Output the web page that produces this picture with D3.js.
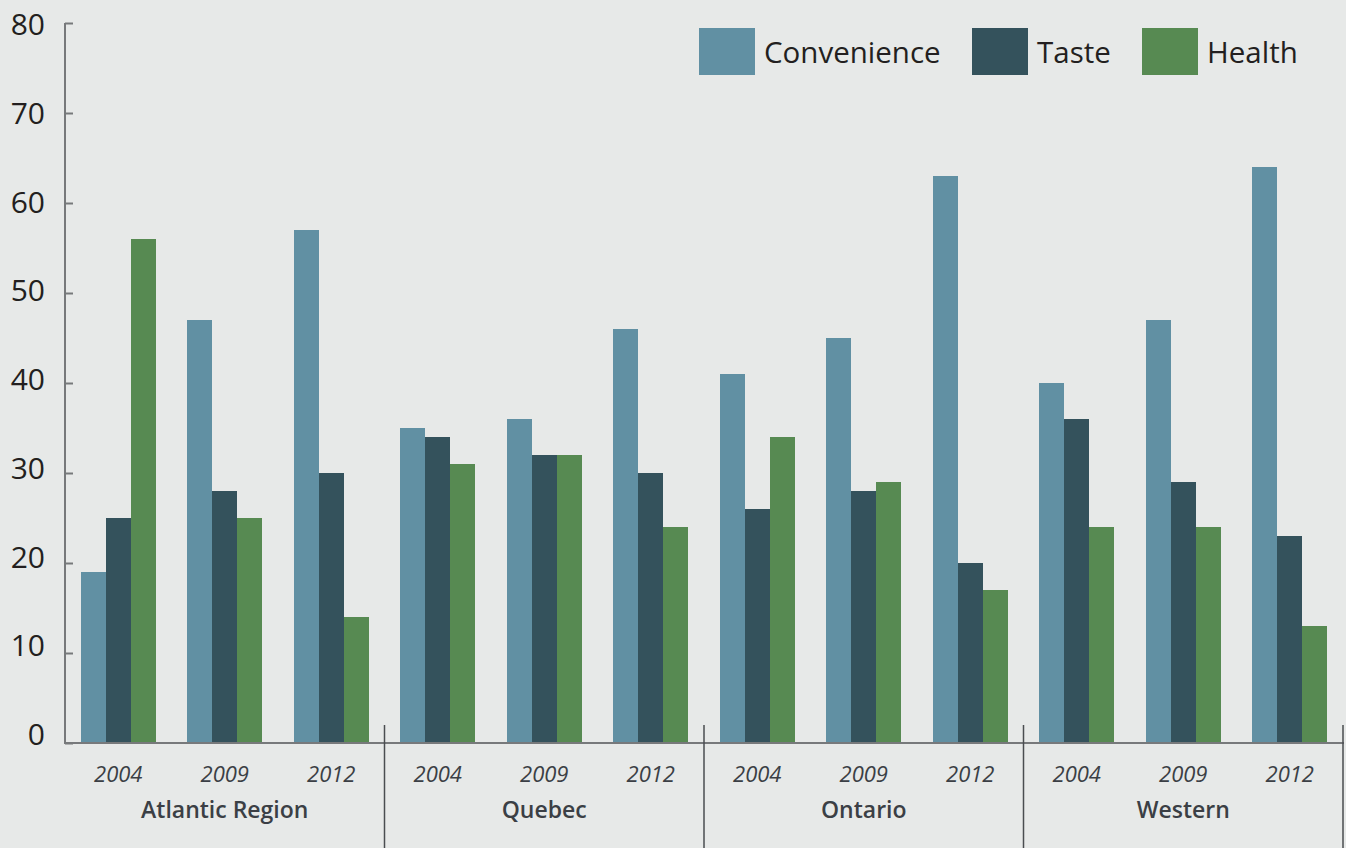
<!DOCTYPE html>
<html>
<head>
<meta charset="utf-8">
<script src="https://cdn.jsdelivr.net/npm/d3@7"></script>
<style>
  html, body { margin: 0; padding: 0; background: #e7e9e8; }
  svg { display: block; font-family: "Open Sans", "Noto Sans", sans-serif; }
</style>
</head>
<body>
<svg id="chart" width="1346" height="848"></svg>
<script>
const regions = ["Atlantic Region", "Quebec", "Ontario", "Western"];
const years = ["2004", "2009", "2012"];
const seriesNames = ["Convenience", "Taste", "Health"];
const seriesColors = ["#6190a3", "#34525c", "#578a52"];
// values per region, per year: [Convenience, Taste, Health]
const convenience = [19, 47, 57, 35, 36, 46, 41, 45, 63, 40, 47, 64];
const taste       = [25, 28, 30, 34, 32, 30, 26, 28, 20, 36, 29, 23];
const health      = [56, 25, 14, 31, 32, 24, 34, 29, 17, 24, 24, 13];
const yTicks = [0, 10, 20, 30, 40, 50, 60, 70, 80];

const svg = d3.select("#chart");
const W = 1346, H = 848;
svg.append("rect").attr("width", W).attr("height", H).attr("fill", "#e7e9e8");

const x0 = 65, x1 = 1343, yBase = 743, yTop = 23;

const keys = [];
regions.forEach((r, ri) => years.forEach((yr, yi) => keys.push(ri + "|" + yr)));

const xBand = d3.scaleBand().domain(keys).range([x0, x1]).paddingInner(0.296).paddingOuter(0.148);
const xSub = d3.scaleBand().domain(seriesNames).range([0, xBand.bandwidth()]).padding(0);
const y = d3.scaleLinear().domain([0, 80]).range([yBase, yTop]);
// tick labels are laid out on a slightly tighter scale than the ticks
const yLabel = d3.scaleLinear().domain([0, 80]).range([745, 35]);

const seriesValues = [convenience, taste, health];
const data = [];
keys.forEach((k, i) => {
  seriesNames.forEach((s, si) => data.push({ key: k, series: s, color: seriesColors[si], value: seriesValues[si][i] }));
});

// bars
svg.append("g").selectAll("rect").data(data).join("rect")
  .attr("x", d => xBand(d.key) + xSub(d.series))
  .attr("y", d => y(d.value))
  .attr("width", xSub.bandwidth())
  .attr("height", d => y(0) - y(d.value))
  .attr("fill", d => d.color)
  .attr("shape-rendering", "crispEdges");

// y axis
const yAxis = d3.axisRight(y).tickValues(yTicks).tickSize(8).tickFormat("");
const gy = svg.append("g").attr("transform", `translate(${x0},0)`).call(yAxis);
gy.select(".domain").attr("stroke", "#77797b").attr("stroke-width", 2).attr("d", `M0,${yTop}V${yBase}`);
gy.selectAll(".tick line").attr("stroke", "#77797b").attr("stroke-width", 2);

svg.append("g").selectAll("text").data(yTicks).join("text")
  .attr("x", 45)
  .attr("y", d => yLabel(d))
  .attr("text-anchor", "end")
  .attr("font-size", 30)
  .attr("fill", "#231f20")
  .text(d => d);

// baseline
svg.append("line").attr("x1", x0 - 1).attr("x2", x1 + 1).attr("y1", yBase).attr("y2", yBase)
  .attr("stroke", "#77797b").attr("stroke-width", 2);

// year labels
svg.append("g").selectAll("text").data(keys).join("text")
  .attr("x", d => xBand(d) + xBand.bandwidth() / 2)
  .attr("y", 782)
  .attr("text-anchor", "middle")
  .attr("font-size", 22)
  .attr("font-style", "italic")
  .attr("fill", "#3b3f45")
  .text(d => d.split("|")[1]);

// region labels and separators
const regionX = d3.scaleBand().domain(regions).range([x0, x1]);
svg.append("g").selectAll("text").data(regions).join("text")
  .attr("x", d => regionX(d) + regionX.bandwidth() / 2)
  .attr("y", 818)
  .attr("text-anchor", "middle")
  .attr("font-size", 23)
  .attr("font-weight", 600)
  .attr("fill", "#3b3f45")
  .text(d => d);

svg.append("g").selectAll("line").data(regions).join("line")
  .attr("x1", d => regionX(d) + regionX.bandwidth())
  .attr("x2", d => regionX(d) + regionX.bandwidth())
  .attr("y1", 725).attr("y2", H)
  .attr("stroke", "#4a4d50").attr("stroke-width", 1.5);

// legend
const legendX = [699, 972, 1142];
const lg = svg.append("g");
seriesNames.forEach((s, i) => {
  lg.append("rect").attr("x", legendX[i]).attr("y", 28).attr("width", 56).attr("height", 47)
    .attr("fill", seriesColors[i]);
  lg.append("text").attr("x", legendX[i] + 65).attr("y", 63)
    .attr("font-size", 29.5).attr("fill", "#231f20").text(s);
});
</script>
</body>
</html>
